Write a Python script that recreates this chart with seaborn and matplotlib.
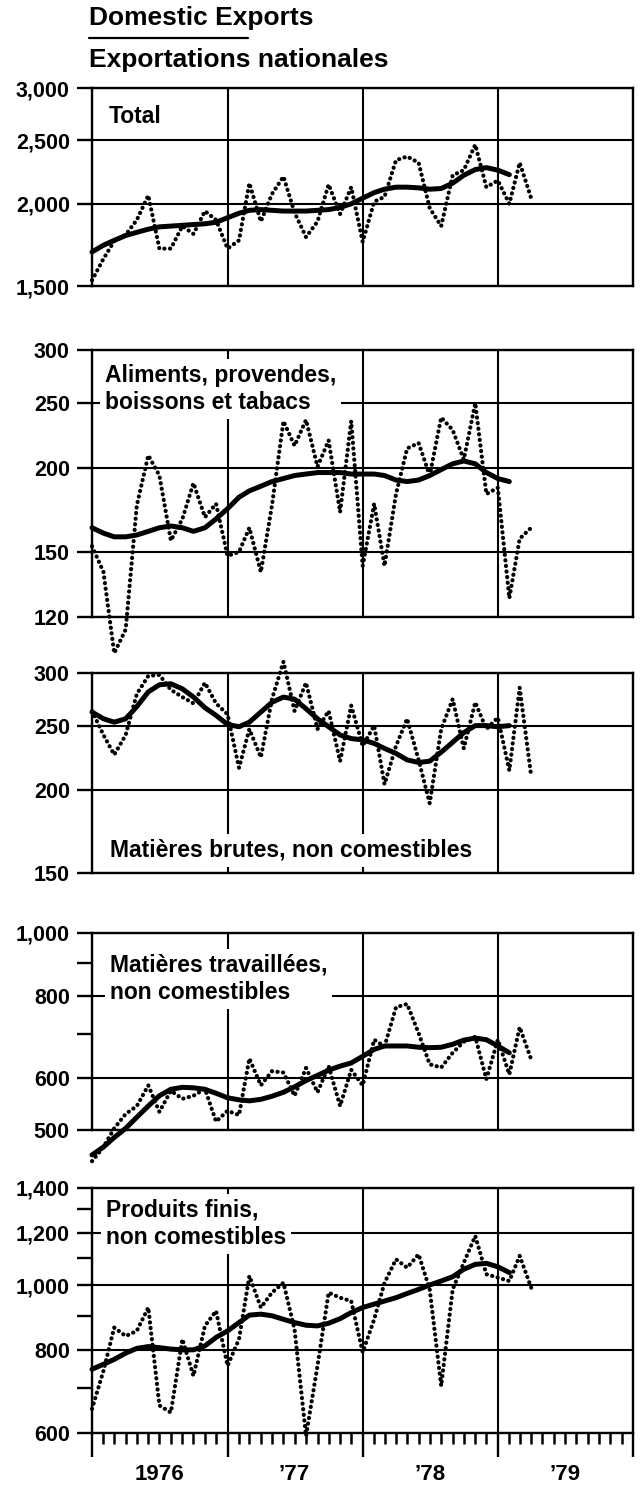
"""Domestic exports by commodity group, 1976-79 (ratio scale)."""
import matplotlib
matplotlib.use('Agg')
import matplotlib.pyplot as plt
import matplotlib.dates as mdates
from matplotlib.lines import Line2D
from matplotlib.ticker import FixedLocator, FuncFormatter, NullFormatter, NullLocator
import pandas as pd
import seaborn as sns

sns.set_theme(style='ticks')
plt.rcParams['font.family'] = ['Liberation Sans', 'DejaVu Sans']
plt.rcParams['font.weight'] = 'bold'
for key in ['text.color', 'axes.edgecolor', 'xtick.color', 'ytick.color', 'axes.labelcolor']:
    plt.rcParams[key] = 'black'

MONTHS = pd.date_range('1976-01-01', periods=40, freq='MS')
YEAR_LABELS = ['1976', '\u201977', '\u201978', '\u201979']
YEAR_MIDS = pd.to_datetime(['1976-07-01', '1977-07-01', '1978-07-01', '1979-07-01'])

# monthly values (dotted) and trend-cycle (solid), millions of dollars
TOTAL = [1530, 1650, 1755, 1795, 1890, 2060, 1710, 1710, 1850, 1800, 1950, 1890, 1710, 1760,
         2150, 1880, 2070, 2200, 1940, 1780, 1880, 2140, 1930, 2120, 1750, 2015, 2050, 2330,
         2360, 2310, 1970, 1850, 2210, 2250, 2460, 2120, 2170, 2000, 2310, 2040]
TOTAL_TREND = [1690, 1730, 1760, 1790, 1810, 1830, 1845, 1850, 1855, 1860, 1865, 1875, 1905,
               1935, 1955, 1960, 1955, 1950, 1950, 1950, 1955, 1960, 1975, 2000, 2040, 2080,
               2105, 2120, 2120, 2115, 2105, 2110, 2150, 2210, 2255, 2270, 2250, 2215]

FOOD = [153, 140, 106, 115, 176, 209, 195, 156, 168, 190, 169, 177, 148, 150, 163, 140, 176,
        235, 216, 236, 201, 220, 172, 235, 143, 177, 143, 183, 214, 218, 195, 238, 228, 206,
        250, 183, 187, 128, 157, 163]
FOOD_TREND = [163, 160, 158, 158, 159, 161, 163, 164, 163, 161, 163, 168, 174, 181, 185, 188,
              191, 193, 195, 196, 197, 197, 197, 196, 196, 196, 195, 192, 191, 192, 195, 199,
              203, 205, 203, 197, 193, 191]

CRUDE = [263, 242, 226, 242, 279, 297, 298, 283, 276, 270, 290, 270, 260, 216, 247, 224, 274,
         312, 263, 290, 247, 263, 221, 268, 233, 250, 204, 233, 256, 222, 191, 247, 274, 231,
         271, 247, 257, 214, 285, 210]
CRUDE_TREND = [262, 256, 253, 256, 267, 281, 288, 289, 284, 276, 266, 259, 251, 249, 253, 262,
               271, 276, 274, 265, 256, 249, 242, 239, 238, 235, 231, 227, 222, 220, 221, 228,
               236, 244, 250, 250, 249, 250]

FAB = [448, 471, 503, 529, 544, 585, 533, 574, 558, 564, 578, 515, 535, 527, 643, 585, 615,
       612, 564, 622, 571, 626, 544, 618, 585, 687, 671, 770, 779, 703, 630, 623, 656, 682,
       694, 598, 687, 608, 718, 641]
FAB_TREND = [458, 471, 487, 503, 523, 544, 564, 577, 581, 580, 577, 569, 560, 556, 554, 557,
             563, 571, 582, 595, 606, 617, 626, 633, 648, 664, 672, 672, 672, 669, 668, 669,
             676, 686, 691, 687, 672, 656]

END = [652, 744, 864, 839, 854, 926, 660, 644, 830, 731, 869, 915, 757, 830, 1033, 926, 975,
       1009, 859, 594, 757, 975, 958, 947, 793, 889, 1009, 1094, 1063, 1113, 986, 706, 986,
       1081, 1186, 1039, 1027, 1015, 1107, 992]
END_TREND = [748, 761, 774, 791, 804, 809, 806, 802, 800, 800, 811, 835, 854, 879, 902, 905,
             900, 889, 879, 871, 869, 877, 891, 910, 926, 937, 947, 958, 972, 986, 1001, 1015,
             1030, 1057, 1075, 1079, 1066, 1045]

W, H = 642, 1485
LEFT, RIGHT = 92, 633

# label, monthly, trend, ylim, major ticks, minor ticks, (top px, bottom px), label (x px, top px)
PANELS = [
    ('Total', TOTAL, TOTAL_TREND, (1500, 3000), [1500, 2000, 2500, 3000], [], (88, 286), (109, 105)),
    ('Aliments, provendes,\nboissons et tabacs', FOOD, FOOD_TREND, (120, 300),
     [120, 150, 200, 250, 300], [], (350, 617), (105, 364)),
    ('Mati\u00e8res brutes, non comestibles', CRUDE, CRUDE_TREND, (150, 300),
     [150, 200, 250, 300], [], (673, 873), (110, 839)),
    ('Mati\u00e8res travaill\u00e9es,\nnon comestibles', FAB, FAB_TREND, (500, 1000),
     [500, 600, 800, 1000], [700, 900], (933, 1130), (110, 954)),
    ('Produits finis,\nnon comestibles', END, END_TREND, (600, 1400),
     [600, 800, 1000, 1200, 1400], [700, 900, 1100, 1300], (1188, 1433), (106, 1199)),
]

fig = plt.figure(figsize=(W / 100, H / 100), dpi=100)

fig.text(89 / W, 1 - 25 / H, 'Domestic Exports', fontsize=19, va='baseline')
fig.add_artist(Line2D([89 / W, 248 / W], [1 - 38 / H] * 2, color='black', lw=1.6))
fig.text(89 / W, 1 - 67 / H, 'Exportations nationales', fontsize=19, va='baseline')

axes = []
for label, monthly, trend, ylim, major, minor, (top, bottom), (lx, ly) in PANELS:
    ax = fig.add_axes([LEFT / W, 1 - bottom / H, (RIGHT - LEFT) / W, (bottom - top) / H])
    ax.set_yscale('log')
    sns.lineplot(x=MONTHS[:len(trend)], y=trend, ax=ax, color='black', lw=3.6,
                 solid_capstyle='round', solid_joinstyle='round', clip_on=False, zorder=4)
    sns.lineplot(x=MONTHS, y=monthly, ax=ax, color='black', lw=3.0,
                 linestyle=(0, (0.05, 1.3)), dash_capstyle='round', clip_on=False, zorder=5)
    ax.set_ylim(*ylim)
    ax.set_xlim(pd.Timestamp('1976-01-01'), pd.Timestamp('1980-01-01'))
    ax.yaxis.set_major_locator(FixedLocator(major))
    ax.yaxis.set_major_formatter(FuncFormatter(lambda v, _: f'{v:,.0f}'))
    ax.yaxis.set_minor_locator(FixedLocator(minor) if minor else NullLocator())
    ax.yaxis.set_minor_formatter(NullFormatter())
    ax.xaxis.set_major_locator(mdates.YearLocator())
    ax.set_xlabel('')
    ax.set_ylabel('')
    ax.set_axisbelow(True)
    ax.grid(True, which='major', color='black', lw=1.5)
    for sp in ax.spines.values():
        sp.set_visible(True)
        sp.set_linewidth(1.7)
        sp.set_color('black')
    ax.tick_params(axis='y', which='both', direction='out', length=11, width=1.7,
                   labelsize=15.5, pad=5)
    ax.tick_params(axis='x', which='both', length=0, labelbottom=False)
    h = bottom - top
    ax.text((lx - LEFT) / (RIGHT - LEFT), (bottom - ly) / h, label, transform=ax.transAxes,
            fontsize=16.5, va='top', ha='left', linespacing=1.22, zorder=3,
            bbox=dict(boxstyle='square,pad=0.2', fc='white', ec='none'))
    axes.append(ax)

# month ticks and year labels on the bottom panel
ax = axes[-1]
ax.xaxis.set_minor_locator(mdates.MonthLocator())
ax.tick_params(axis='x', which='major', direction='out', length=17, width=1.7)
ax.tick_params(axis='x', which='minor', direction='out', length=8, width=1.8)
ax.xaxis.set_major_formatter(NullFormatter())
ax.xaxis.set_minor_formatter(NullFormatter())
trans = ax.get_xaxis_transform()
for mid, lab in zip(YEAR_MIDS, YEAR_LABELS):
    ax.text(mid, -42 / 245, lab, transform=trans, ha='center', va='center', fontsize=16)

fig.savefig('out.png', dpi=100)
